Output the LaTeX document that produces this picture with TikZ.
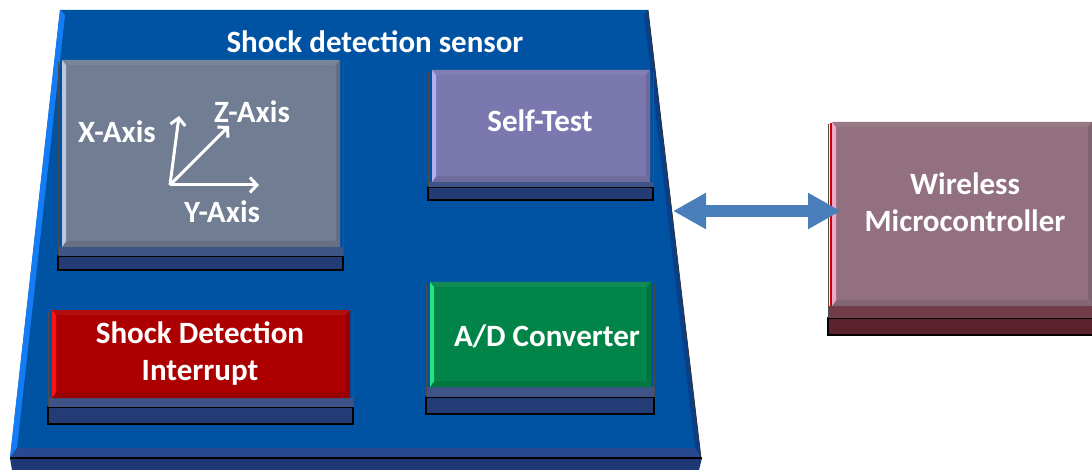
\documentclass[tikz,border=0pt]{standalone}
\usepackage{fontspec}
\setmainfont{Carlito}
\usetikzlibrary{arrows.meta}
\definecolor{boardblue}{RGB}{0,82,162}
\definecolor{boardhl}{RGB}{20,125,245}
\definecolor{boarddark}{RGB}{10,62,135}
\definecolor{boardstrip}{RGB}{40,72,145}
\definecolor{boardside}{RGB}{30,56,118}
\definecolor{navyside}{RGB}{36,60,118}
\definecolor{grayface}{RGB}{112,125,146}
\definecolor{grayhl}{RGB}{185,198,228}
\definecolor{selfface}{RGB}{122,120,174}
\definecolor{selfhl}{RGB}{176,176,240}
\definecolor{redface}{RGB}{172,0,0}
\definecolor{redhl}{RGB}{255,20,20}
\definecolor{greenface}{RGB}{0,132,72}
\definecolor{greenhl}{RGB}{40,225,130}
\definecolor{microface}{RGB}{147,112,127}
\definecolor{microhl}{RGB}{240,168,200}
\definecolor{microside}{RGB}{92,34,46}
\definecolor{arrowblue}{RGB}{74,126,187}
\tikzset{
  lbl/.style={text=white,font=\fontsize{31}{37}\selectfont\bfseries,align=center,inner sep=0pt},
  axisarrow/.style={white,line width=3pt,-{Straight Barb[length=7pt,width=15pt]}},
  linkarrow/.style={arrowblue,line width=12pt,{Triangle[width=34pt,length=33pt]}-{Triangle[width=34pt,length=33pt]}}
}
% #1 xl #2 xr #3 yt #4 yf #5 ys #6 yb #7 face #8 highlight #9 side
\newcommand\chipbox[9]{%
  \fill[#9] (#1-4,#5) rectangle (#2+3,#6);
  \draw[black,line width=1.2pt] (#1-4,#5) rectangle (#2+3,#6);
  \fill[#9!88!white] (#1-4,#4) rectangle (#2+3,#5);
  \draw[black!70,line width=0.8pt] (#1-4,#5) -- (#1-4,#3+2);
  \draw[black!70,line width=0.8pt] (#2+3,#5) -- (#2+3,#3+2);
  \fill[#7] (#1,#3) rectangle (#2,#4);
  \fill[#7!94!white] (#1,#3) -- (#1+5,#3+5) -- (#2-5,#3+5) -- (#2,#3) -- cycle;
  \fill[#7!90!black] (#1,#4) -- (#1+6,#4-6) -- (#2-6,#4-6) -- (#2,#4) -- cycle;
  \fill[#7!88!black] (#2,#3) -- (#2-4,#3+5) -- (#2-4,#4-6) -- (#2,#4) -- cycle;
  \fill[#8] (#1,#3) -- (#1+4,#3+5) -- (#1+4,#4-6) -- (#1,#4) -- cycle;
}
\begin{document}
\begin{tikzpicture}[x=1pt,y=-1pt]
\useasboundingbox (0,0) rectangle (1092,470);
% board
\fill[boardside] (10,458) -- (702,458) -- (699,470) -- (12,470) -- cycle;
\fill[boardblue] (60,10) -- (648,10) -- (701,458) -- (10,458) -- cycle;
\fill[boardhl] (60,10) -- (65,15) -- (17,448) -- (10,458) -- cycle;
\fill[boarddark] (648,10) -- (644,15) -- (695,448) -- (701,458) -- cycle;
\fill[boardstrip] (10,458) -- (17,448) -- (695,448) -- (701,458) -- cycle;
\draw[black,line width=1.2pt] (10,458) -- (702,458);
\draw[black!80,line width=0.8pt] (648,10) -- (701,458);
% chips
\chipbox{62}{340}{60}{247}{256}{270}{grayface}{grayhl}{navyside}
\chipbox{432}{650}{70}{182}{187}{200}{selfface}{selfhl}{navyside}
\chipbox{52}{350}{310}{398}{407}{424}{redface}{redhl}{navyside}
\chipbox{430}{651}{282}{387}{397}{414}{greenface}{greenhl}{navyside}
\chipbox{832}{1092}{122}{306}{318}{335}{microface}{microhl}{microside}
\draw[red!80!black,line width=1.2pt] (831,123) -- (831,306);
% labels
\node[lbl] (title) at (375,42) {Shock detection sensor};
\node[lbl] (xlab) at (117,132) {X-Axis};
\node[lbl] (zlab) at (252,112) {Z-Axis};
\node[lbl] (ylab) at (222,212) {Y-Axis};
\node[lbl] (self) at (540,121) {Self-Test};
\node[lbl] (shock) at (200,354) {Shock Detection\\Interrupt};
\node[lbl] (adc) at (547,336) {A/D Converter};
\node[lbl] (micro) at (965,202) {Wireless\\Microcontroller};
% axes
\coordinate (o) at (170,185);
\coordinate (xt) at (179,116);
\coordinate (zt) at (229,126);
\coordinate (yt) at (259,185);
\draw[axisarrow] (o) -- (xt);
\draw[axisarrow] (o) -- (zt);
\draw[axisarrow] (o) -- (yt);
% link arrow
\coordinate (arrL) at (673,211);
\coordinate (arrR) at (841,211);
\draw[linkarrow] (arrL) -- (arrR);
\end{tikzpicture}
\end{document}
